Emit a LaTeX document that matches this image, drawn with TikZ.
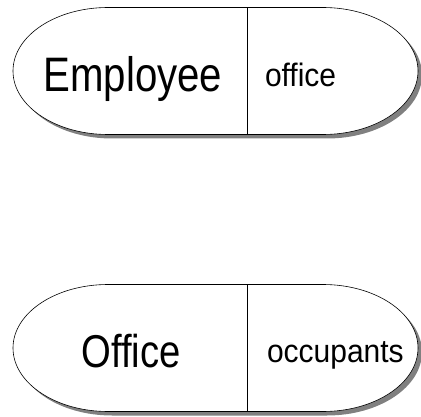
\documentclass[tikz,border=0pt]{standalone}
\usepackage{fontspec}
\setmainfont{Liberation Sans}
\usetikzlibrary{positioning,calc}

\newcommand{\tallbig}[1]{\scalebox{0.98}[1.18]{#1}}
\newcommand{\tallsmall}[1]{\scalebox{1}[1.08]{#1}}

\begin{document}
\begin{tikzpicture}[x=1pt,y=1pt,
    shade/.style={fill=black!50,draw=none},
    pill/.style={fill=white,draw=black,line width=0.6pt},
    every node/.style={inner sep=0pt,outer sep=0pt},
    big/.style={anchor=base,font=\fontsize{41}{41}\selectfont},
    small/.style={anchor=base west,font=\fontsize{30}{30}\selectfont}]
    \useasboundingbox (0,0) rectangle (421,416);
    % the two records
    \foreach \yc in {345,68} {
      \fill[shade] ($(108,\yc+63.5)+(4,-4)$) -- ++(215,0)
        arc[start angle=90,end angle=-90,x radius=95,y radius=63.5] -- ++(-215,0)
        arc[start angle=270,end angle=90,x radius=95,y radius=63.5] -- cycle;
      \draw[pill] (108,\yc+63.5) -- ++(215,0)
        arc[start angle=90,end angle=-90,x radius=95,y radius=63.5] -- ++(-215,0)
        arc[start angle=270,end angle=90,x radius=95,y radius=63.5] -- cycle;
      \draw[line width=0.6pt] (247,\yc+63.5) -- (247,\yc-63.5);
    }
    \node (emp) [big] at (133,324) {\tallbig{Employee}};
    \node (empoffice) [small] at (265,329) {\tallsmall{office}};
    \node (off) [big,font=\fontsize{39}{39}\selectfont] at (131,49) {\tallbig{Office}};
    \node (offocc) [small] at (267,54) {\tallsmall{occupants}};
  \end{tikzpicture}
\end{document}
